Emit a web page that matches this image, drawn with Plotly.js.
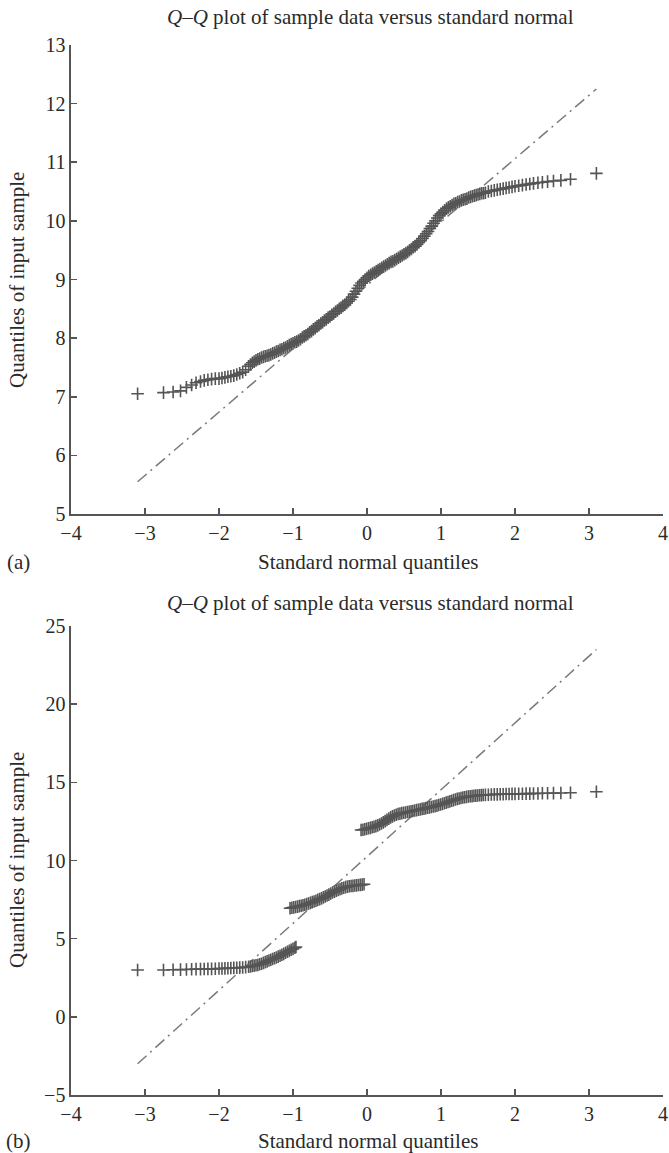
<!DOCTYPE html>
<html><head><meta charset="utf-8">
<script src="https://cdn.plot.ly/plotly-3.0.1.min.js"></script>
<style>html,body{margin:0;padding:0;background:#fff}#plot{width:669px;height:1153px}</style>
</head><body><div id="plot"></div>
<script>
// (a) sample quantiles vs standard normal quantiles
const qa_x = [-3.1,-2.75,-2.62,-2.52,-2.44,-2.37,-2.31,-2.25,-2.2,-2.15,-2.1,-2.05,-2.0,-1.96,-1.92,-1.88,-1.84,-1.8,-1.76,-1.72,-1.68,-1.64,
 -1.6,-1.575,-1.55,-1.525,-1.5,-1.475,-1.45,-1.425,-1.4,-1.375,-1.35,-1.325,-1.3,-1.275,-1.25,-1.225,-1.2,-1.175,-1.15,-1.125,-1.1,-1.075,-1.05,-1.025,
 -1.0,-0.975,-0.95,-0.925,-0.9,-0.875,-0.85,-0.825,-0.8,-0.775,-0.75,-0.725,-0.7,-0.675,-0.65,-0.625,-0.6,-0.575,-0.55,-0.525,
 -0.5,-0.475,-0.45,-0.425,-0.4,-0.375,-0.35,-0.325,-0.3,-0.275,-0.25,-0.225,-0.2,-0.175,-0.15,-0.125,-0.1,-0.075,-0.05,-0.025,
 0,0.025,0.05,0.075,0.1,0.125,0.15,0.175,0.2,0.225,0.25,0.275,0.3,0.325,0.35,0.375,0.4,0.425,0.45,0.475,
 0.5,0.525,0.55,0.575,0.6,0.625,0.65,0.675,0.7,0.725,0.75,0.775,0.8,0.825,0.85,0.875,0.9,0.925,0.95,0.975,
 1.0,1.025,1.05,1.075,1.1,1.125,1.15,1.175,1.2,1.225,1.25,1.275,1.3,1.325,1.35,1.375,1.4,1.425,1.45,1.475,1.5,1.525,1.55,1.575,1.6,
 1.64,1.68,1.72,1.76,1.8,1.84,1.88,1.92,1.96,2.0,2.05,2.1,2.15,2.2,2.25,2.31,2.37,2.44,2.52,2.62,2.75,3.1];
const qa_y = [7.05,7.07,7.08,7.10,7.16,7.20,7.24,7.26,7.28,7.29,7.30,7.31,7.31,7.32,7.33,7.34,7.35,7.36,7.38,7.40,7.42,7.46,
 7.52,7.55,7.58,7.60,7.62,7.64,7.65,7.67,7.68,7.69,7.70,7.71,7.72,7.74,7.75,7.77,7.78,7.80,7.81,7.83,7.84,7.86,7.88,7.90,
 7.91,7.93,7.94,7.96,7.98,8.01,8.03,8.05,8.07,8.10,8.12,8.15,8.17,8.20,8.22,8.25,8.27,8.30,8.32,8.35,
 8.37,8.40,8.42,8.45,8.47,8.50,8.52,8.55,8.57,8.60,8.63,8.66,8.70,8.75,8.80,8.85,8.90,8.94,8.97,9.00,
 9.03,9.06,9.08,9.10,9.12,9.14,9.16,9.18,9.20,9.22,9.24,9.26,9.28,9.30,9.31,9.33,9.35,9.37,9.39,9.41,
 9.43,9.45,9.47,9.50,9.52,9.55,9.57,9.60,9.63,9.66,9.70,9.74,9.78,9.82,9.87,9.91,9.96,10.00,10.05,10.09,
 10.12,10.15,10.18,10.21,10.23,10.25,10.27,10.29,10.30,10.32,10.33,10.35,10.36,10.37,10.38,10.40,10.41,10.42,10.43,10.44,10.45,10.46,10.47,10.47,10.48,
 10.50,10.51,10.52,10.53,10.54,10.55,10.56,10.57,10.58,10.59,10.60,10.61,10.62,10.63,10.64,10.65,10.66,10.67,10.68,10.69,10.71,10.81];
const refa_x = [-3.1, 3.1];
const refa_y = [5.55, 12.25];

// (b) sample quantiles vs standard normal quantiles
const qb_x = [-3.1,-2.75,-2.62,-2.52,-2.44,-2.37,-2.31,-2.25,-2.2,-2.15,-2.1,-2.05,-2.0,-1.96,-1.92,-1.88,-1.84,-1.8,-1.76,-1.72,-1.68,-1.64,
 -1.6,-1.575,-1.55,-1.525,-1.5,-1.475,-1.45,-1.425,-1.4,-1.375,-1.35,-1.325,-1.3,-1.275,-1.25,-1.225,-1.2,-1.175,-1.15,-1.125,-1.1,-1.075,-1.05,-1.025,-1.0,-0.975,-0.96,
 -1.04,-1.015,-0.99,-0.965,-0.94,-0.915,-0.89,-0.865,-0.84,-0.815,-0.79,-0.765,-0.74,-0.715,-0.69,-0.665,-0.64,-0.615,-0.59,-0.565,
 -0.54,-0.515,-0.49,-0.465,-0.44,-0.415,-0.39,-0.365,-0.34,-0.315,-0.29,-0.265,-0.24,-0.215,-0.19,-0.165,-0.14,-0.115,-0.09,-0.065,-0.04,
 -0.08,-0.055,-0.03,-0.005,0.02,0.045,0.07,0.095,0.12,0.145,0.17,0.195,0.22,0.245,0.27,0.295,0.32,0.345,0.37,0.395,
 0.42,0.445,0.47,0.495,0.52,0.545,0.57,0.595,0.62,0.645,0.67,0.695,0.72,0.745,0.77,0.795,0.82,0.845,0.87,0.895,
 0.92,0.945,0.97,0.995,1.02,1.045,1.07,1.095,1.12,1.145,1.17,1.195,1.22,1.245,1.27,1.295,1.32,1.345,1.37,1.395,
 1.42,1.445,1.47,1.495,1.52,1.545,1.57,1.6,
 1.64,1.68,1.72,1.76,1.8,1.84,1.88,1.92,1.96,2.0,2.05,2.1,2.15,2.2,2.25,2.31,2.37,2.44,2.52,2.62,2.75,3.1];
const qb_y = [3.00,3.00,3.01,3.02,3.03,3.04,3.05,3.05,3.06,3.07,3.07,3.08,3.09,3.09,3.10,3.11,3.12,3.13,3.14,3.15,3.16,3.18,
 3.20,3.22,3.25,3.27,3.30,3.32,3.36,3.40,3.45,3.50,3.55,3.60,3.65,3.70,3.75,3.80,3.85,3.91,3.97,4.03,4.10,4.16,4.22,4.29,4.35,4.42,4.47,
 6.95,6.98,7.00,7.03,7.05,7.08,7.11,7.14,7.17,7.21,7.25,7.29,7.34,7.38,7.43,7.48,7.53,7.58,7.64,7.70,
 7.76,7.82,7.89,7.95,8.01,8.07,8.12,8.17,8.22,8.26,8.30,8.33,8.35,8.37,8.38,8.40,8.41,8.43,8.44,8.46,8.48,
 11.95,11.97,12.00,12.03,12.06,12.09,12.13,12.16,12.20,12.25,12.30,12.37,12.44,12.52,12.60,12.68,12.76,12.82,12.88,12.93,
 12.97,13.00,13.03,13.05,13.07,13.10,13.12,13.15,13.17,13.20,13.22,13.25,13.27,13.30,13.32,13.35,13.37,13.40,13.42,13.45,
 13.48,13.51,13.55,13.58,13.62,13.66,13.70,13.74,13.78,13.82,13.86,13.90,13.94,13.97,14.00,14.03,14.05,14.07,14.09,14.11,
 14.12,14.14,14.15,14.16,14.17,14.18,14.19,14.20,
 14.21,14.22,14.23,14.23,14.24,14.24,14.25,14.25,14.26,14.26,14.27,14.27,14.28,14.28,14.29,14.29,14.30,14.30,14.31,14.32,14.33,14.40];
const refb_x = [-3.1, 3.1];
const refb_y = [-3.0, 23.5];

const xTicks = [-4,-3,-2,-1,0,1,2,3,4];
const yTicksA = [5,6,7,8,9,10,11,12,13];
const yTicksB = [-5,0,5,10,15,20,25];

const FONT = "Liberation Serif, DejaVu Serif, serif";
const AX = '#555';
const mk = {symbol:'cross-thin', size:9, color:'#555', line:{width:1.6, color:'#555'}};
const ln = {color:'#7a7a7a', width:1.5, dash:'12px,5px,2px,5px'};

const traces = [
  {x:refa_x, y:refa_y, mode:'lines', line:ln, xaxis:'x', yaxis:'y', hoverinfo:'skip'},
  {x:qa_x, y:qa_y, mode:'markers', marker:mk, xaxis:'x', yaxis:'y'},
  {x:refb_x, y:refb_y, mode:'lines', line:ln, xaxis:'x2', yaxis:'y2', hoverinfo:'skip'},
  {x:qb_x, y:qb_y, mode:'markers', marker:mk, xaxis:'x2', yaxis:'y2'}
];

const TICKF = {family:FONT, size:20, color:'#2a2a2a'};
function xax(anchor){
  return {domain:[71/669, 663/669], range:[-4,4], tickvals:xTicks, anchor:anchor,
    showline:true, linecolor:AX, linewidth:1.6, ticks:'inside', ticklen:6, tickwidth:1.6, tickcolor:AX,
    showgrid:false, zeroline:false, tickfont:TICKF, fixedrange:true};
}
function yax(dom, rng, tv, anchor){
  return {domain:dom, range:rng, tickvals:tv, anchor:anchor,
    showline:true, linecolor:AX, linewidth:1.6, ticks:'inside', ticklen:6, tickwidth:1.6, tickcolor:AX,
    showgrid:false, zeroline:false, tickfont:TICKF, fixedrange:true};
}

const tfont = {family:FONT, size:21, color:'#2a2a2a'};
const H = 1153;
function ann(text, px, py, angle){
  return {text:text, xref:'paper', yref:'paper', x:px/669, y:1-py/H, xanchor:'center', yanchor:'middle',
    showarrow:false, textangle:angle||0, font:tfont};
}
const layout = {
  width:669, height:H, showlegend:false,
  margin:{l:0, r:0, t:0, b:0},
  paper_bgcolor:'#fff', plot_bgcolor:'#fff',
  xaxis: xax('y'),
  yaxis: yax([1-514/H, 1-45/H], [5,13], yTicksA, 'x'),
  xaxis2: xax('y2'),
  yaxis2: yax([1-1095/H, 1-626/H], [-5,25], yTicksB, 'x2'),
  annotations:[
    ann('<i>Q</i>–<i>Q</i> plot of sample data versus standard normal', 370, 17),
    ann('<i>Q</i>–<i>Q</i> plot of sample data versus standard normal', 370, 603),
    ann('Standard normal quantiles', 368, 562),
    ann('Standard normal quantiles', 368, 1141),
    ann('Quantiles of input sample', 17, 280, -90),
    ann('Quantiles of input sample', 17, 860, -90),
    ann('(a)', 18, 562),
    ann('(b)', 18, 1141)
  ]
};
Plotly.newPlot('plot', traces, layout, {displayModeBar:false, staticPlot:true});
</script>
</body></html>
